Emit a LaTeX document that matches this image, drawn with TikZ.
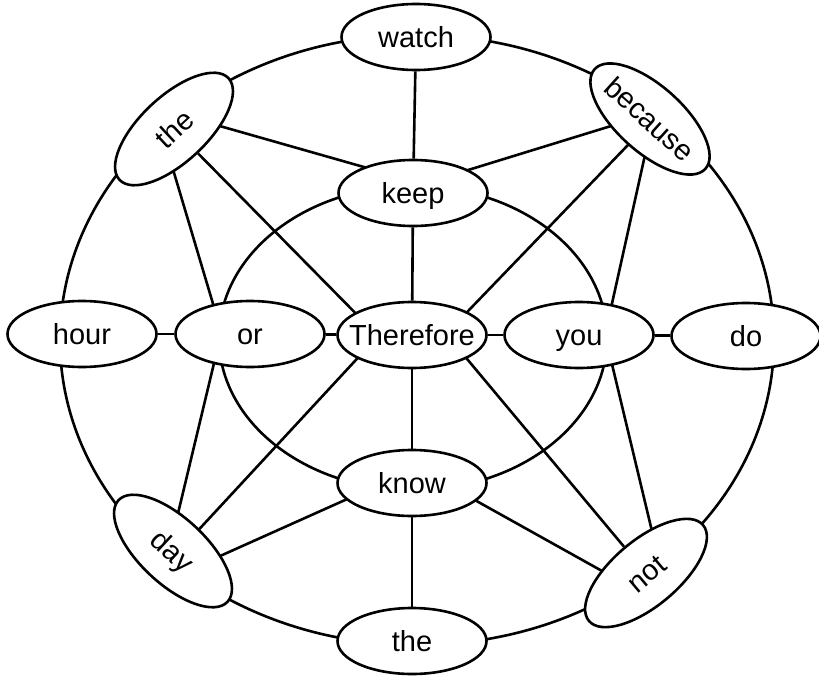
\documentclass[tikz,border=0pt]{standalone}
\usepackage{fontspec}
\setmainfont{Liberation Sans}
\usetikzlibrary{shapes.geometric,calc}
\pgfdeclarelayer{bg}
\pgfsetlayers{bg,main}
\begin{document}
\begin{tikzpicture}[x=1pt,y=-1pt,
  word/.style={ellipse,draw,fill=white,line width=2.6pt,minimum width=149pt,minimum height=66pt,
    inner sep=0pt,text height=21pt,text depth=0pt,font=\fontsize{29}{30}\selectfont},
  link/.style={line width=2.6pt}]
\useasboundingbox (0,0) rectangle (819,677);
\node[word] (watch) at (416,37) {\makebox[0pt]{watch}};
\node[word] (keep) at (413,193) {\makebox[0pt]{keep}};
\node[word] (tf) at (412,335) {\makebox[0pt]{Therefore}};
\node[word] (know) at (412,483) {\makebox[0pt]{know}};
\node[word] (the2) at (412,641) {\makebox[0pt]{the}};
\node[word] (hour) at (82,334) {\makebox[0pt]{hour}};
\node[word] (or) at (250,334) {\makebox[0pt]{or}};
\node[word] (you) at (579,335) {\makebox[0pt]{you}};
\node[word] (do) at (746,336) {\makebox[0pt]{do}};
\node[word,rotate=43] (the1) at (174,129) {\makebox[0pt]{the}};
\node[word,rotate=-42] (because) at (650,119) {\makebox[0pt]{because}};
\node[word,rotate=-43] (day) at (173,551) {\makebox[0pt]{day}};
\node[word,rotate=40] (not) at (646,573) {\makebox[0pt]{not}};
\begin{pgfonlayer}{bg}
\coordinate (oc) at (417,340);
\coordinate (ic) at (413,338);
\draw[link] (oc) ellipse [x radius=357, y radius=305];
\draw[link] (ic) ellipse [x radius=194, y radius=152];
\draw[link] (watch) -- (keep);
\draw[link] ($(the1)+(0,-16)$) -- ($(keep)+(0,-12)$);
\draw[link] ($(because)+(0,-5)$) -- ($(keep)+(0,-6)$);
\draw[link] ($(the1)+(-13,0)$) -- ($(or)+(-28,0)$);
\draw[link] (the1) -- ($(tf)+(-35,0)$);
\draw[link] ($(because)+(3,0)$) -- ($(tf)+(33,0)$);
\draw[link] ($(because)+(3,0)$) -- ($(you)+(26,0)$);
\draw[link] (keep) -- (tf);
\draw[link] (tf) -- (know);
\draw[link] (know) -- (the2);
\draw[link] (hour) -- (or);
\draw[link] (or) -- (tf);
\draw[link] (tf) -- (you);
\draw[link] (you) -- (do);
\draw[link] ($(tf)+(-33,0)$) -- ($(day)+(6,0)$);
\draw[link] ($(tf)+(35,0)$) -- (not);
\draw[link] ($(or)+(-29,0)$) -- ($(day)+(-4,0)$);
\draw[link] ($(you)+(26,0)$) -- ($(not)+(16,0)$);
\draw[link] ($(know)+(0,-13)$) -- ($(day)+(27,14)$);
\draw[link] ($(know)+(0,-18)$) -- ($(not)+(-26,8)$);
\end{pgfonlayer}
\end{tikzpicture}
\end{document}
